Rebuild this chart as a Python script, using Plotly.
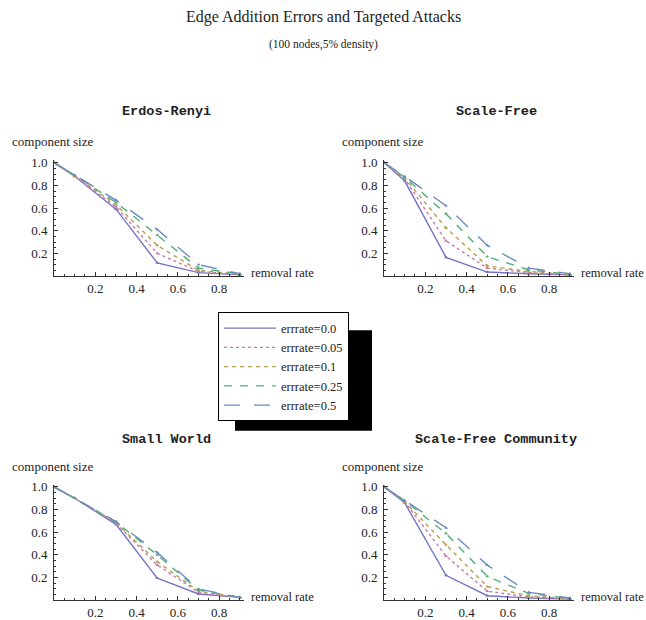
import plotly.graph_objects as go

W, H = 646, 620

removal_rate = [0.0, 0.1, 0.3, 0.5, 0.7, 0.9]
err_rates = ["errrate=0.0", "errrate=0.05", "errrate=0.1", "errrate=0.25", "errrate=0.5"]

erdos_renyi = [
    [1.0, 0.88, 0.59, 0.115, 0.03, 0.01],
    [1.0, 0.88, 0.61, 0.20, 0.04, 0.012],
    [1.0, 0.885, 0.63, 0.27, 0.05, 0.015],
    [1.0, 0.89, 0.65, 0.36, 0.07, 0.018],
    [1.0, 0.89, 0.67, 0.41, 0.10, 0.02],
]
scale_free = [
    [1.0, 0.84, 0.165, 0.035, 0.02, 0.01],
    [1.0, 0.86, 0.31, 0.07, 0.03, 0.01],
    [1.0, 0.865, 0.425, 0.09, 0.04, 0.012],
    [1.0, 0.87, 0.55, 0.17, 0.055, 0.015],
    [1.0, 0.88, 0.62, 0.27, 0.07, 0.02],
]
small_world = [
    [1.0, 0.90, 0.67, 0.195, 0.055, 0.025],
    [1.0, 0.90, 0.68, 0.31, 0.07, 0.025],
    [1.0, 0.90, 0.685, 0.34, 0.08, 0.025],
    [1.0, 0.90, 0.69, 0.40, 0.09, 0.025],
    [1.0, 0.90, 0.695, 0.42, 0.10, 0.025],
]
sf_community = [
    [1.0, 0.86, 0.22, 0.04, 0.02, 0.01],
    [1.0, 0.87, 0.39, 0.08, 0.03, 0.01],
    [1.0, 0.87, 0.49, 0.12, 0.04, 0.012],
    [1.0, 0.88, 0.59, 0.21, 0.06, 0.015],
    [1.0, 0.88, 0.64, 0.31, 0.07, 0.02],
]

panel_titles = ["Erdos-Renyi", "Scale-Free", "Small World", "Scale-Free Community"]
panel_data = [erdos_renyi, scale_free, small_world, sf_community]

x_ticks = [0.2, 0.4, 0.6, 0.8]
x_tick_text = ["0.2", "0.4", "0.6", "0.8"]
y_ticks = [0.2, 0.4, 0.6, 0.8, 1.0]
y_tick_text = ["0.2", "0.4", "0.6", "0.8", "1.0"]

colors = ["#7474c4", "#c97aa6", "#b3a04e", "#4fae7a", "#6d8cc0"]
dashes = ["solid", "dot", "4px,4px", "8px,8px", "16px,14px"]

SERIF = "Liberation Serif"
MONO = "Liberation Mono"

panels_px = [(54, 275), (384, 275), (54, 604), (384, 604)]
PW = 190
XMAX = 0.92
PH = 115 * 1.02
YMAX = 1.02

fig = go.Figure()

for i, (title, data) in enumerate(zip(panel_titles, panel_data)):
    ax = "" if i == 0 else str(i + 1)
    for j, ys in enumerate(data):
        fig.add_trace(go.Scatter(
            x=removal_rate, y=ys, mode="lines",
            name=err_rates[j], legendgroup=err_rates[j], showlegend=(i == 0),
            line=dict(color=colors[j], width=1.4, dash=dashes[j]),
            xaxis="x" + ax, yaxis="y" + ax,
        ))
        fig.add_trace(go.Scatter(
            x=removal_rate, y=ys, mode="markers",
            legendgroup=err_rates[j], showlegend=False, hoverinfo="skip",
            marker=dict(color=colors[j], size=3.5, symbol="triangle-up"),
            xaxis="x" + ax, yaxis="y" + ax,
        ))

layout = dict(
    width=W, height=H,
    margin=dict(l=0, r=0, t=0, b=0),
    paper_bgcolor="white", plot_bgcolor="white",
    font=dict(family=SERIF, size=13, color="#222"),
    showlegend=True,
    legend=dict(
        x=218 / W, y=1 - 312 / H, xanchor="left", yanchor="top",
        bgcolor="white", bordercolor="black", borderwidth=1,
        font=dict(family=SERIF, size=12.5, color="#222"),
        itemwidth=52, tracegroupgap=0,
    ),
)

annotations = [
    dict(text="Edge Addition Errors and Targeted Attacks", x=0.5, y=1 - 12 / H,
         xref="paper", yref="paper", showarrow=False, xanchor="center", yanchor="middle",
         font=dict(family=SERIF, size=16, color="#222")),
    dict(text="(100 nodes,5% density)", x=0.5, y=1 - 40 / H,
         xref="paper", yref="paper", showarrow=False, xanchor="center", yanchor="middle",
         font=dict(family=SERIF, size=11.5, color="#222")),
]

title_centers = [(166, 108), (496, 108), (166, 441), (496, 441)]

for i, (x0, yb) in enumerate(panels_px):
    ax = "" if i == 0 else str(i + 1)
    xd = [x0 / W, (x0 + PW) / W]
    yd = [1 - yb / H, 1 - (yb - PH) / H]
    common = dict(showgrid=False, zeroline=False, showline=True, linecolor="#333", linewidth=1,
                  ticks="inside", ticklen=4, tickwidth=1, tickcolor="#333",
                  tickfont=dict(family=SERIF, size=13, color="#222"),
                  minor=dict(ticks="inside", ticklen=2, tickwidth=1, tickcolor="#333", dtick=0.05))
    layout["xaxis" + ax] = dict(domain=xd, range=[0, XMAX], anchor="y" + ax,
                                tickvals=x_ticks, ticktext=x_tick_text,
                                ticklabelstandoff=0, **common)
    layout["yaxis" + ax] = dict(domain=yd, range=[0, YMAX], anchor="x" + ax,
                                tickvals=y_ticks, ticktext=y_tick_text,
                                ticklabelstandoff=3, **common)
    cx, cy = title_centers[i]
    annotations.append(dict(text="<b>" + panel_titles[i] + "</b>", x=cx / W, y=1 - cy / H,
                            xref="paper", yref="paper", showarrow=False,
                            xanchor="center", yanchor="middle",
                            font=dict(family=MONO, size=13.5, color="#222")))
    annotations.append(dict(text="component size", x=(x0 - 44) / W, y=1 - (yb - 136) / H,
                            xref="paper", yref="paper", showarrow=False,
                            xanchor="left", yanchor="middle",
                            font=dict(family=SERIF, size=13, color="#222")))
    annotations.append(dict(text="removal rate", x=(x0 + 195) / W, y=1 - (yb - 3) / H,
                            xref="paper", yref="paper", showarrow=False,
                            xanchor="left", yanchor="middle",
                            font=dict(family=SERIF, size=12.5, color="#222")))

layout["annotations"] = annotations
layout["shapes"] = [
    dict(type="rect", xref="paper", yref="paper",
         x0=235 / W, x1=372 / W, y0=1 - 432 / H, y1=1 - 330 / H,
         fillcolor="black", line=dict(width=0), layer="above"),
]

fig.update_layout(**layout)
fig.write_html("out.html", config={"displayModeBar": False},
               post_script="document.body.style.margin='0px';document.body.style.overflow='hidden';")
